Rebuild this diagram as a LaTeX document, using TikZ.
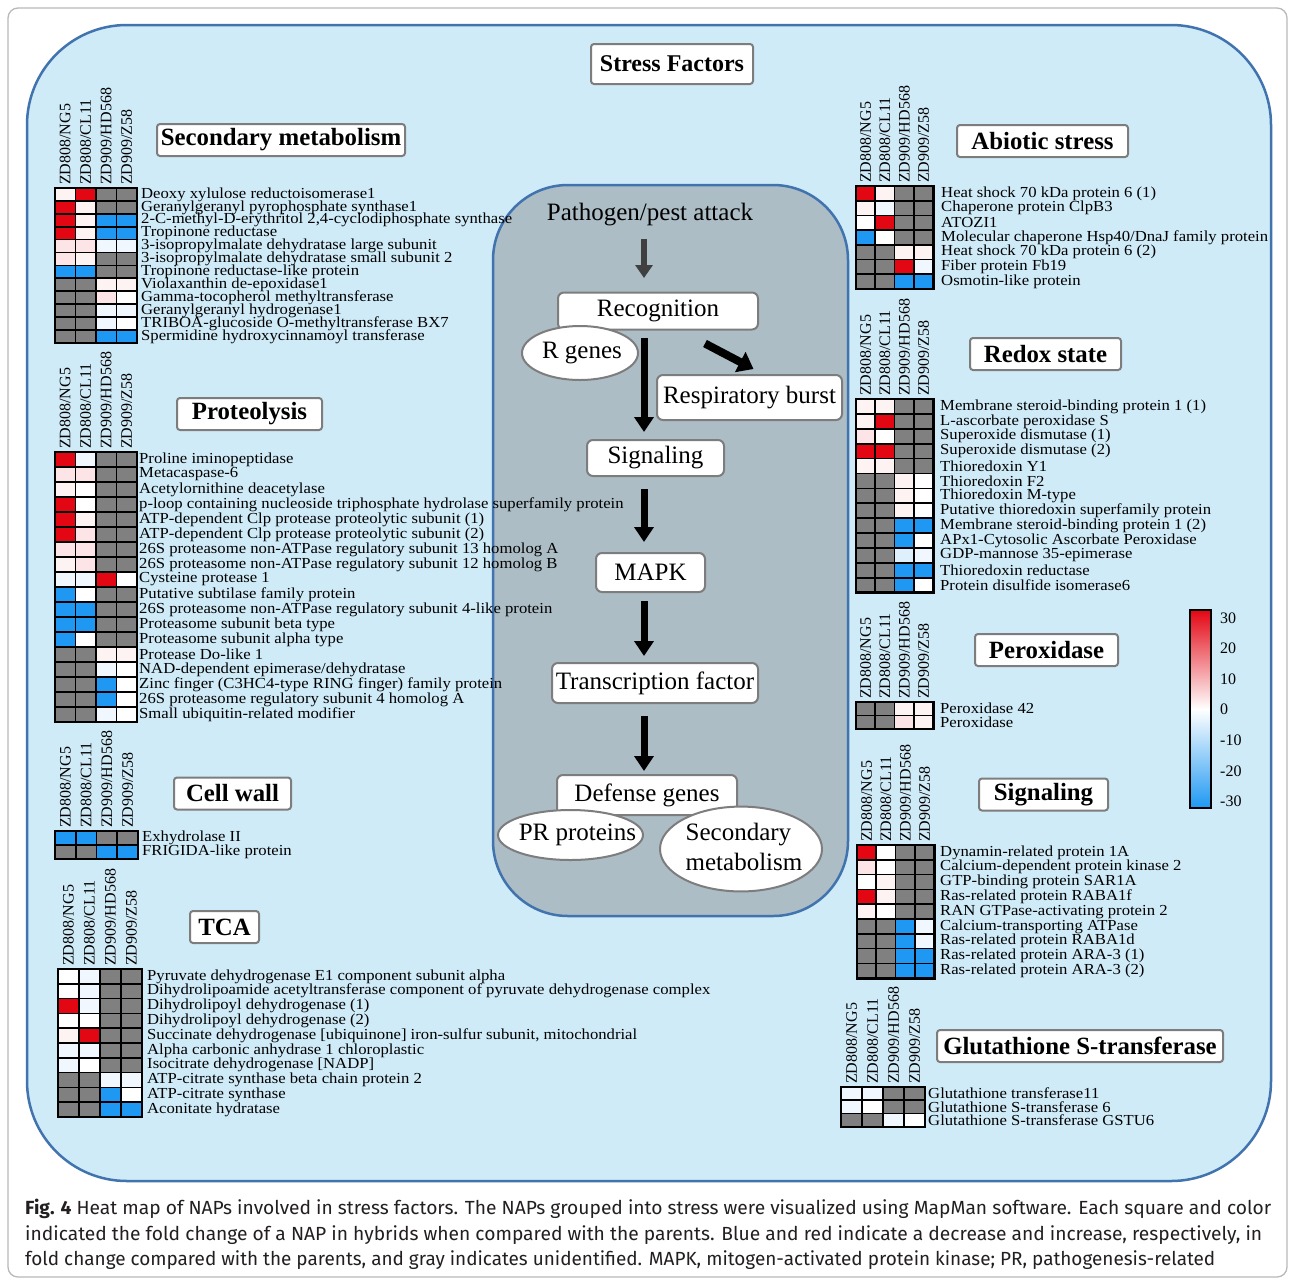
\documentclass[tikz,border=0pt]{standalone}
\usepackage{fontspec}
\setmainfont{Liberation Serif}
\newfontfamily\capf{Fira Sans}
\usepackage{graphicx}
\usetikzlibrary{arrows.meta,shapes.geometric,calc}

\definecolor{bgblue}{RGB}{208,235,248}
\definecolor{frameblue}{RGB}{65,115,175}
\definecolor{centgray}{RGB}{172,189,197}
\definecolor{boxgray}{RGB}{125,125,125}
\definecolor{captxt}{RGB}{35,31,32}
\definecolor{arrgray}{RGB}{64,64,64}
\definecolor{hR}{RGB}{227,6,19}
\definecolor{hP}{RGB}{252,228,231}
\definecolor{hp}{RGB}{254,243,243}
\definecolor{hW}{RGB}{255,255,255}
\definecolor{hb}{RGB}{240,247,254}
\definecolor{hc}{RGB}{222,240,252}
\definecolor{hB}{RGB}{30,152,242}
\definecolor{hG}{RGB}{128,128,128}

\tikzset{
  lbl/.style={anchor=west, inner sep=0pt, font=\fontsize{15.3}{15.3}\selectfont},
  hdr/.style={rotate=90, anchor=west, inner sep=0pt, font=\fontsize{16}{16}\selectfont},
  tbox/.style={draw=boxgray, line width=2pt, fill=white, rounded corners=3pt,
    minimum height=32pt, inner sep=2pt, font=\fontsize{24.8}{24.8}\selectfont\bfseries},
  fbox/.style={draw=boxgray, line width=2pt, fill=white, rounded corners=6pt,
    inner sep=0pt, font=\fontsize{25}{25}\selectfont},
  ell/.style={ellipse, draw=boxgray, line width=2pt, fill=white, inner sep=0pt,
    font=\fontsize{25}{30}\selectfont},
  garrow/.style={draw=arrgray, line width=6pt, -{Triangle[width=17pt,length=13pt]}},
  barrow/.style={draw=black, line width=7pt, -{Triangle[width=19pt,length=15pt]}},
  cbl/.style={anchor=west, inner sep=0pt, font=\fontsize{16}{16}\selectfont},
  capline/.style={anchor=base west, inner sep=0pt, text=captxt}
}

% #1 name, #2 x0, #3 y0, #4 cell width, #5 row height, #6 rows, #7 label x, #8 data
\newcommand{\heatgrid}[8]{%
  \foreach \ca/\cb/\cc/\cd/\txt [count=\i] in {#8}{%
    \pgfmathsetmacro{\yy}{#3+(\i-1)*#5}%
    \foreach \cl [count=\j] in {\ca,\cb,\cc,\cd}{%
      \pgfmathsetmacro{\xx}{#2+(\j-1)*#4}%
      \filldraw[fill=\cl, draw=black, line width=1.7pt] (\xx,\yy) rectangle ++(#4,#5);
    }
    \node[lbl] (#1-\i) at (#7, \yy+#5/2) {\scalebox{1.09}[1]{\txt}};
  }
  \draw[line width=2.6pt] (#2,#3) rectangle ++(4*#4, #6*#5);
  \foreach \h [count=\j] in {ZD808/NG5, ZD808/CL11, ZD909/HD568, ZD909/Z58}{%
    \node[hdr] (#1-h\j) at (#2+\j*#4-0.5*#4, #3-3) {\h};
  }
}

\begin{document}
\begin{tikzpicture}[x=1pt,y=-1pt]
\useasboundingbox (0,0) rectangle (1295,1280);
\fill[white] (0,0) rectangle (1295,1280);
\draw[gray!55, line width=1.3pt, rounded corners=10pt] (8,8) rectangle (1287,1277);

% backgrounds
\draw[fill=bgblue, draw=frameblue, line width=2.5pt, rounded corners=100pt] (27,25) rectangle (1271,1181);
\draw[fill=centgray, draw=frameblue, line width=2.5pt, rounded corners=75pt] (493,185) rectangle (848,916);

% main title
\node[tbox, minimum width=162pt, minimum height=40pt, font=\fontsize{24}{24}\selectfont\bfseries] (stress) at (672,64) {Stress Factors};

% category titles
\node[tbox, minimum width=248pt] (t-sm) at (281,140) {Secondary metabolism};
\node[tbox, minimum width=145pt] (t-pro) at (249.5,414) {Proteolysis};
\node[tbox, minimum width=117pt] (t-cw) at (232.5,793.5) {Cell wall};
\node[tbox, minimum width=69pt] (t-tca) at (224.5,927) {TCA};
\node[tbox, minimum width=171pt] (t-ab) at (1042.5,141) {Abiotic stress};
\node[tbox, minimum width=151pt] (t-rx) at (1045.5,354) {Redox state};
\node[tbox, minimum width=143pt] (t-px) at (1046.5,650) {Peroxidase};
\node[tbox, minimum width=129pt] (t-sg) at (1043.5,794.5) {Signaling};
\node[tbox, minimum width=286pt] (t-gst) at (1080,1046) {Glutathione S-transferase};

% centre flow
\coordinate (ax) at (644,0);
\node[inner sep=0pt, font=\fontsize{25}{25}\selectfont] (patho) at (650,215) {Pathogen/pest attack};
\node[fbox, minimum width=200pt, minimum height=37pt] (rec) at (658,311) {Recognition};
\node[ell, minimum width=116pt, minimum height=54pt] (rg) at (580,353) {\makebox[0pt]{\hspace{4pt}R genes}};
\node[fbox, minimum width=185pt, minimum height=45pt] (resp) at (749.5,397.5) {Respiratory burst};
\node[fbox, minimum width=137pt, minimum height=36pt] (sig) at (655.5,458) {Signaling};
\node[fbox, minimum width=109pt, minimum height=39pt] (mapk) at (650.5,572.5) {MAPK};
\node[fbox, minimum width=206pt, minimum height=40pt] (tf) at (655,683) {Transcription factor};
\node[fbox, minimum width=180pt, minimum height=40pt] (def) at (647,795) {Defense genes};
\node[ell, minimum width=145pt, minimum height=50pt] (pr) at (570.5,835) {\makebox[0pt]{\hspace{14pt}PR proteins}};
\node[ell, minimum width=162pt, minimum height=82pt] (secm) at (741,849) {\makebox[0pt]{\hspace{6pt}\begin{tabular}{@{}l@{}}Secondary\\metabolism\end{tabular}}};

\draw[garrow, shorten <=12pt, shorten >=13.5pt] (patho.south -| ax) -- (rec.north -| ax);
\draw[barrow, shorten <=7.5pt, shorten >=7pt] (rec.south -| ax) -- (sig.north -| ax);
\draw[draw=black, line width=8pt, -{Triangle[width=22pt,length=15pt]}] ($(rec.south)+(47,13)$) -- ($(resp.north)+(4,-5)$);
\draw[barrow, shorten <=12pt, shorten >=10pt] (sig.south -| ax) -- (mapk.north -| ax);
\draw[barrow, shorten <=8pt, shorten >=6pt] (mapk.south -| ax) -- (tf.north -| ax);
\draw[barrow, shorten <=12pt, shorten >=3pt] (tf.south -| ax) -- (def.north -| ax);

% heat maps
\heatgrid{sm}{55}{188}{20.5}{12.9}{12}{141}{%
 hp/hR/hG/hG/{Deoxy xylulose reductoisomerase1},
 hR/hp/hG/hG/{Geranylgeranyl pyrophosphate synthase1},
 hR/hp/hB/hB/{2-C-methyl-D-erythritol 2,4-cyclodiphosphate synthase},
 hR/hp/hB/hB/{Tropinone reductase},
 hP/hP/hb/hb/{3-isopropylmalate dehydratase large subunit},
 hP/hp/hG/hG/{3-isopropylmalate dehydratase small subunit 2},
 hB/hB/hG/hG/{Tropinone reductase-like protein},
 hG/hG/hp/hp/{Violaxanthin de-epoxidase1},
 hG/hG/hP/hW/{Gamma-tocopherol methyltransferase},
 hG/hG/hb/hb/{Geranylgeranyl hydrogenase1},
 hG/hG/hb/hW/{TRIBOA-glucoside O-methyltransferase BX7},
 hG/hG/hB/hB/{Spermidine hydroxycinnamoyl transferase}}

\heatgrid{pro}{55}{452}{20.5}{15}{18}{139}{%
 hR/hb/hG/hG/{Proline iminopeptidase},
 hP/hP/hG/hG/{Metacaspase-6},
 hp/hW/hG/hG/{Acetylornithine deacetylase},
 hR/hW/hG/hG/{p-loop containing nucleoside triphosphate hydrolase superfamily protein},
 hR/hp/hG/hG/{ATP-dependent Clp protease proteolytic subunit (1)},
 hR/hP/hG/hG/{ATP-dependent Clp protease proteolytic subunit (2)},
 hP/hP/hG/hG/{26S proteasome non-ATPase regulatory subunit 13 homolog A},
 hp/hP/hG/hG/{26S proteasome non-ATPase regulatory subunit 12 homolog B},
 hb/hb/hR/hW/{Cysteine protease 1},
 hB/hW/hG/hG/{Putative subtilase family protein},
 hB/hB/hG/hG/{26S proteasome non-ATPase regulatory subunit 4-like protein},
 hB/hB/hG/hG/{Proteasome subunit beta type},
 hB/hW/hG/hG/{Proteasome subunit alpha type},
 hG/hG/hp/hp/{Protease Do-like 1},
 hG/hG/hb/hW/{NAD-dependent epimerase/dehydratase},
 hG/hG/hB/hW/{Zinc finger (C3HC4-type RING finger) family protein},
 hG/hG/hB/hW/{26S proteasome regulatory subunit 4 homolog A},
 hG/hG/hb/hW/{Small ubiquitin-related modifier}}

\heatgrid{cw}{55}{831}{20.75}{14}{2}{142}{%
 hB/hB/hG/hG/{Exhydrolase II},
 hG/hG/hB/hB/{FRIGIDA-like protein}}

\heatgrid{tca}{58}{969}{21}{14.8}{10}{147}{%
 hW/hb/hG/hG/{Pyruvate dehydrogenase E1 component subunit alpha},
 hW/hb/hG/hG/{Dihydrolipoamide acetyltransferase component of pyruvate dehydrogenase complex},
 hR/hb/hG/hG/{Dihydrolipoyl dehydrogenase (1)},
 hW/hW/hG/hG/{Dihydrolipoyl dehydrogenase (2)},
 hp/hR/hG/hG/{Succinate dehydrogenase [ubiquinone] iron-sulfur subunit, mitochondrial},
 hb/hb/hG/hG/{Alpha carbonic anhydrase 1 chloroplastic},
 hb/hW/hG/hG/{Isocitrate dehydrogenase [NADP]},
 hG/hG/hb/hb/{ATP-citrate synthase beta chain protein 2},
 hG/hG/hB/hW/{ATP-citrate synthase},
 hG/hG/hB/hB/{Aconitate hydratase}}

\heatgrid{ab}{856}{186}{19.3}{14.7}{7}{941}{%
 hR/hp/hG/hG/{Heat shock 70 kDa protein 6 (1)},
 hp/hb/hG/hG/{Chaperone protein ClpB3},
 hW/hR/hG/hG/{ATOZI1},
 hB/hW/hG/hG/{Molecular chaperone Hsp40/DnaJ family protein},
 hG/hG/hp/hp/{Heat shock 70 kDa protein 6 (2)},
 hG/hG/hR/hb/{Fiber protein Fb19},
 hG/hG/hB/hB/{Osmotin-like protein}}

\heatgrid{rx}{856}{399}{19.3}{14.9}{13}{940}{%
 hp/hp/hG/hG/{Membrane steroid-binding protein 1 (1)},
 hp/hR/hG/hG/{L-ascorbate peroxidase S},
 hP/hW/hG/hG/{Superoxide dismutase (1)},
 hR/hR/hG/hG/{Superoxide dismutase (2)},
 hp/hp/hG/hG/{Thioredoxin Y1},
 hG/hG/hp/hW/{Thioredoxin F2},
 hG/hG/hp/hW/{Thioredoxin M-type},
 hG/hG/hp/hW/{Putative thioredoxin superfamily protein},
 hG/hG/hB/hB/{Membrane steroid-binding protein 1 (2)},
 hG/hG/hB/hW/{APx1-Cytosolic Ascorbate Peroxidase},
 hG/hG/hc/hb/{GDP-mannose 35-epimerase},
 hG/hG/hB/hB/{Thioredoxin reductase},
 hG/hG/hB/hW/{Protein disulfide isomerase6}}

\heatgrid{px}{856}{702}{19.3}{13.5}{2}{940}{%
 hG/hG/hp/hp/{Peroxidase 42},
 hG/hG/hP/hp/{Peroxidase}}

\heatgrid{sg}{857}{845}{19.3}{14.8}{9}{940}{%
 hR/hW/hG/hG/{Dynamin-related protein 1A},
 hP/hW/hG/hG/{Calcium-dependent protein kinase 2},
 hW/hp/hG/hG/{GTP-binding protein SAR1A},
 hR/hp/hG/hG/{Ras-related protein RABA1f},
 hp/hW/hG/hG/{RAN GTPase-activating protein 2},
 hG/hG/hB/hb/{Calcium-transporting ATPase},
 hG/hG/hB/hb/{Ras-related protein RABA1d},
 hG/hG/hB/hB/{Ras-related protein ARA-3 (1)},
 hG/hG/hB/hB/{Ras-related protein ARA-3 (2)}}

\heatgrid{gst}{841}{1087}{21}{13.3}{3}{928}{%
 hb/hb/hG/hG/{Glutathione transferase11},
 hb/hW/hG/hG/{Glutathione S-transferase 6},
 hG/hG/hb/hW/{Glutathione S-transferase GSTU6}}

% colour bar
\shade[top color=hR, bottom color=white] (1190,610) rectangle (1211,709);
\shade[top color=white, bottom color=hB] (1190,709) rectangle (1211,808);
\draw[line width=2pt] (1190,610) rectangle (1211,808);
\node[cbl] (cb1) at (1220,618) {30};
\node[cbl] (cb2) at (1220,648) {20};
\node[cbl] (cb3) at (1220,679) {10};
\node[cbl] (cb4) at (1220,709) {0};
\node[cbl] (cb5) at (1220,740) {-10};
\node[cbl] (cb6) at (1220,771) {-20};
\node[cbl] (cb7) at (1220,801) {-30};

% caption
\node[capline] (cap1) at (25,1214) {\capf\fontsize{19}{19}\selectfont\resizebox{1246pt}{\height}{\textbf{Fig. 4} Heat map of NAPs involved in stress factors. The NAPs grouped into stress were visualized using MapMan software. Each square and color}};
\node[capline] (cap2) at (25,1240) {\capf\fontsize{19}{19}\selectfont\resizebox{1237pt}{\height}{indicated the fold change of a NAP in hybrids when compared with the parents. Blue and red indicate a decrease and increase, respectively, in}};
\node[capline] (cap3) at (25,1265) {\capf\fontsize{19}{19}\selectfont\resizebox{1190pt}{\height}{fold change compared with the parents, and gray indicates unidentified. MAPK, mitogen-activated protein kinase; PR, pathogenesis-related}};
\end{tikzpicture}
\end{document}
